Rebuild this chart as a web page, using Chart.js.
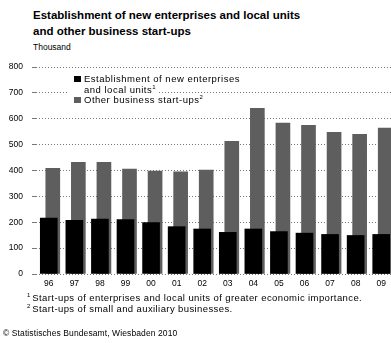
<!DOCTYPE html>
<html>
<head>
<meta charset="utf-8">
<script src="https://cdn.jsdelivr.net/npm/chart.js@4/dist/chart.umd.min.js"></script>
<style>
  html, body { margin: 0; padding: 0; background: #fff; overflow: hidden; }
  body { width: 391px; height: 343px; position: relative; font-family: "Liberation Sans", Arial, sans-serif; color: #000; }
  .title { position: absolute; left: 33px; top: 7px; font-size: 11.5px; font-weight: bold; line-height: 16px; }
  .unit { position: absolute; left: 33px; top: 42px; font-size: 8.5px; }
  .chart { position: absolute; left: 0; top: 53px; width: 396px; height: 241px; }
  .legend { position: absolute; left: 67px; top: 74px; font-size: 9.5px; letter-spacing: 0.5px; line-height: 10.5px; }
  .legend div { position: relative; height: 10.5px; padding-left: 17px; background: #fff; width: max-content; padding-right: 3px; }
  .legend .box { position: absolute; left: 7px; top: 2px; width: 7px; height: 6px; padding: 0; }
  sup { font-size: 6px; line-height: 0; vertical-align: 4px; letter-spacing: 0; }
  .notes { position: absolute; left: 27px; top: 292px; font-size: 9.5px; letter-spacing: 0.4px; line-height: 11px; }
  .notes div { height: 11px; }
  .notes sup { margin-right: 2px; }
  .source { position: absolute; left: 3px; top: 328px; font-size: 8.5px; letter-spacing: 0.1px; }
</style>
</head>
<body>
<div class="title">Establishment of new enterprises and local units<br>and other business start-ups</div>
<div class="unit">Thousand</div>
<div class="chart"><canvas id="startups" width="396" height="241"></canvas></div>
<div class="legend">
  <div><span class="box" style="background:#000"></span>Establishment of new enterprises</div>
  <div>and local units<sup>1</sup></div>
  <div><span class="box" style="background:#5e5e5e"></span>Other business start-ups<sup>2</sup></div>
</div>
<div class="notes">
  <div><sup>1</sup>Start-ups of enterprises and local units of greater economic importance.</div>
  <div><sup>2</sup>Start-ups of small and auxiliary businesses.</div>
</div>
<div class="source">© Statistisches Bundesamt, Wiesbaden 2010</div>
<script>
const years = ["96", "97", "98", "99", "00", "01", "02", "03", "04", "05", "06", "07", "08", "09"];
// thousand
const establishments = [216, 208, 212, 210, 199, 183, 174, 161, 174, 164, 158, 153, 149, 153];
const otherStartups = [409, 432, 432, 406, 398, 395, 402, 513, 641, 584, 575, 548, 540, 564];
const yTicks = [0, 100, 200, 300, 400, 500, 600, 700, 800];

// gray bars sit slightly to the right, behind the black ones
const shiftBars = {
  id: "shiftBars",
  afterDatasetsUpdate(chart) {
    chart.getDatasetMeta(1).data.forEach(el => { el.x += 4; });
  },
};

const tickFont = { size: 8.5, family: "'Liberation Sans', Arial, sans-serif" };

new Chart(document.getElementById("startups"), {
  type: "bar",
  data: {
    labels: years,
    datasets: [
      {
        label: "Establishment of new enterprises and local units",
        data: establishments,
        backgroundColor: "#000",
        barThickness: 17,
        grouped: false,
      },
      {
        label: "Other business start-ups",
        data: otherStartups,
        backgroundColor: "#5e5e5e",
        barThickness: 14,
        grouped: false,
      },
    ],
  },
  options: {
    responsive: false,
    animation: false,
    layout: { padding: { top: 7, right: 2, bottom: 0, left: 0 } },
    plugins: {
      legend: { display: false },
      tooltip: { enabled: false },
    },
    scales: {
      x: {
        grid: { display: false, drawTicks: false },
        border: { display: false },
        ticks: { color: "#000", font: tickFont, padding: 5 },
        afterFit: s => { s.height = 20; },
      },
      y: {
        min: 0,
        max: 800,
        afterBuildTicks: s => { s.ticks = yTicks.map(v => ({ value: v })); },
        grid: { color: "#777", lineWidth: 1, tickLength: 4 },
        border: { display: false, dash: [1, 2] },
        ticks: { color: "#000", font: tickFont, padding: 9 },
        afterFit: s => { s.width = 36; },
      },
    },
  },
  plugins: [shiftBars],
});
</script>
</body>
</html>
